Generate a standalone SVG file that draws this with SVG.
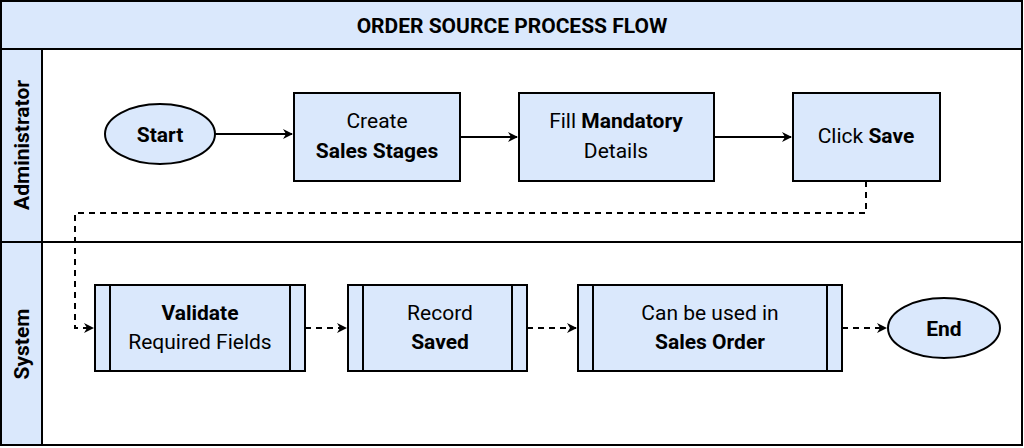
<svg xmlns="http://www.w3.org/2000/svg" width="1024" height="448" viewBox="0 0 1024 448">
<style>
.n{fill:#dae8fc;stroke:#000;stroke-width:2}
.t{font-family:Roboto,"Liberation Sans",sans-serif;font-size:21px;fill:#000;text-anchor:middle}
.b{font-weight:bold}
.c{fill:none;stroke:#000;stroke-width:2}
.d{stroke-dasharray:6 5}
</style>
<defs><marker id="a" markerWidth="10" markerHeight="10" refX="9" refY="5" orient="auto" markerUnits="userSpaceOnUse"><path d="M0,0 L10,5 L0,10 L3,5 Z" fill="#000"/></marker></defs>
<rect x="1" y="1" width="1021" height="444" fill="#fff" stroke="#000" stroke-width="2"/>
<g id="title"><rect x="1" y="1" width="1021" height="48" class="n"/><text x="512" y="33" class="t b">ORDER SOURCE PROCESS FLOW</text></g>
<g id="lane1"><rect x="1" y="49" width="1021" height="193" fill="none" stroke="#000" stroke-width="2"/><rect x="1" y="49" width="41" height="193" class="n"/><text transform="translate(29,145) rotate(-90)" class="t b">Administrator</text></g>
<g id="lane2"><rect x="1" y="242" width="1021" height="203" fill="none" stroke="#000" stroke-width="2"/><rect x="1" y="242" width="41" height="203" class="n"/><text transform="translate(29,344) rotate(-90)" class="t b">System</text></g>
<g id="start"><ellipse cx="160" cy="134" rx="55" ry="30" class="n"/><text x="160" y="142" class="t b">Start</text></g>
<g id="create"><rect x="294" y="93" width="166" height="88" class="n"/><text x="377" y="128" class="t">Create</text><text x="377" y="158" class="t b">Sales Stages</text></g>
<g id="fill"><rect x="519" y="93" width="195" height="88" class="n"/><text x="616" y="128" class="t">Fill <tspan class="b">Mandatory</tspan></text><text x="616" y="158" class="t">Details</text></g>
<g id="save"><rect x="793" y="93" width="147" height="88" class="n"/><text x="866" y="143" class="t">Click <tspan class="b">Save</tspan></text></g>
<g id="validate"><rect x="95" y="285" width="210" height="86" class="n"/><path d="M110,285V371M290,285V371" class="c"/><text x="200" y="320" class="t b">Validate</text><text x="200" y="349" class="t">Required Fields</text></g>
<g id="record"><rect x="348" y="285" width="179" height="86" class="n"/><path d="M363,285V371M512,285V371" class="c"/><text x="440" y="320" class="t">Record</text><text x="440" y="349" class="t b">Saved</text></g>
<g id="canbe"><rect x="578" y="285" width="264" height="86" class="n"/><path d="M593,285V371M827,285V371" class="c"/><text x="710" y="320" class="t">Can be used in</text><text x="710" y="349" class="t b">Sales Order</text></g>
<g id="end"><ellipse cx="944" cy="328" rx="56" ry="30" class="n"/><text x="944" y="336" class="t b">End</text></g>
<g id="connectors">
<path d="M215,134H292" class="c" marker-end="url(#a)"/>
<path d="M460,137H517" class="c" marker-end="url(#a)"/>
<path d="M714,137H791" class="c" marker-end="url(#a)"/>
<path d="M866,181V213H75V328H93" class="c d" marker-end="url(#a)"/>
<path d="M305,328H346" class="c d" marker-end="url(#a)"/>
<path d="M527,328H576" class="c d" marker-end="url(#a)"/>
<path d="M842,328H886" class="c d" marker-end="url(#a)"/>
</g>
</svg>
